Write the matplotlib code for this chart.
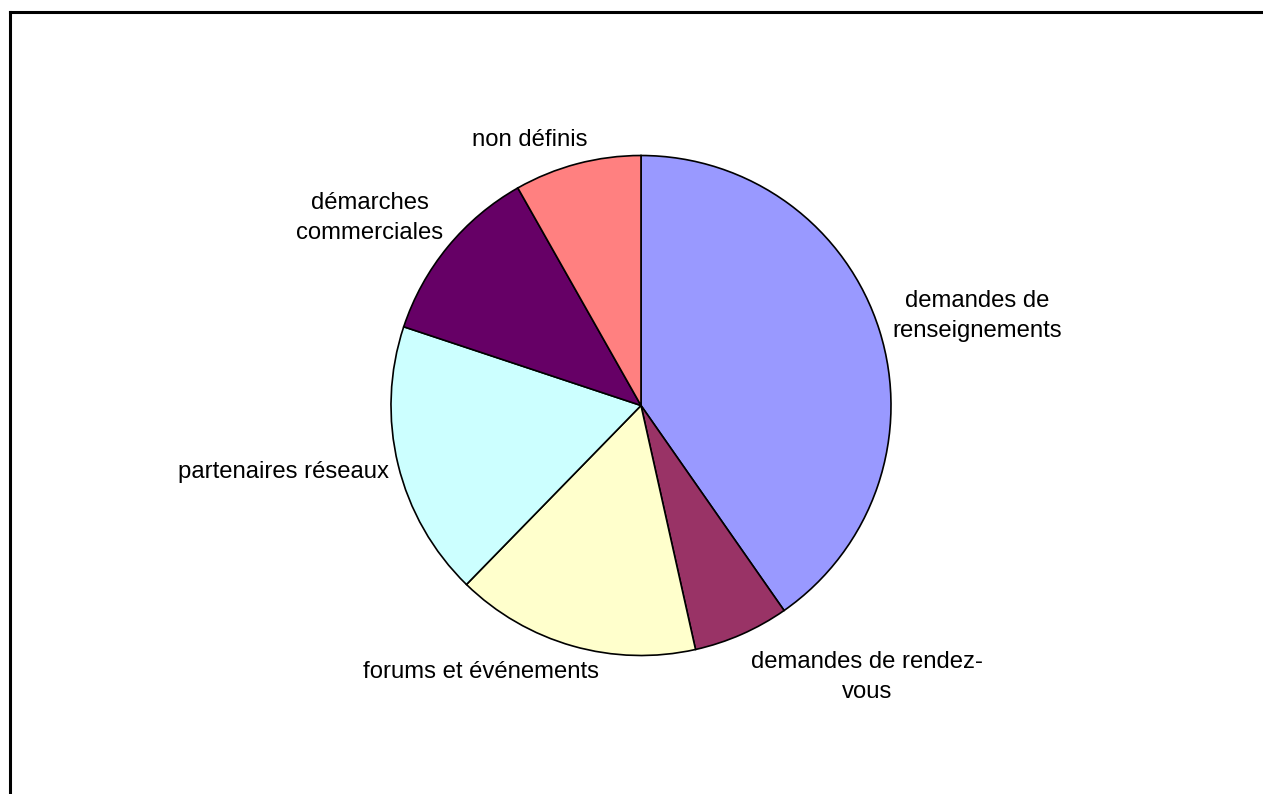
import matplotlib
matplotlib.use("Agg")
import matplotlib.pyplot as plt
from matplotlib.lines import Line2D

categories = ["demandes de renseignements", "demandes de rendez-vous",
              "forums et événements", "partenaires réseaux",
              "démarches commerciales", "non définis"]
values = [40.3, 6.2, 15.8, 17.8, 11.7, 8.2]
colors = ["#9999FF", "#993366", "#FFFFCC", "#CCFFFF", "#660066", "#FF8080"]

label_texts = ["demandes de\nrenseignements", "demandes de rendez-\nvous",
               "forums et événements", "partenaires réseaux",
               "démarches\ncommerciales", "non définis"]
# label centres in pixels (x, y from top)
label_pos = [(977, 316), (867, 677), (481, 672), (283, 472), (370, 218), (530, 140)]

W, H = 1263, 794
fig = plt.figure(figsize=(W / 100, H / 100), dpi=100)
fig.patch.set_facecolor("white")

cx, cy, r = 641, 405.5, 250
ax = fig.add_axes([(cx - r) / W, (H - cy - r) / H, 2 * r / W, 2 * r / H])
ax.pie(values, colors=colors, startangle=90, counterclock=False,
       wedgeprops=dict(edgecolor="black", linewidth=1.2), radius=1.0)
ax.set_xlim(-1, 1)
ax.set_ylim(-1, 1)
ax.set_aspect("auto")
ax.axis("off")

for txt, (px, py) in zip(label_texts, label_pos):
    fig.text(px / W, 1 - py / H, txt, ha="center", va="center",
             multialignment="center", fontsize=17.2,
             family="Liberation Sans", linespacing=1.45)

# border lines on left and top
fig.add_artist(Line2D([10 / W, 10 / W], [0, 1 - 12 / H], color="black", lw=2.2,
                      transform=fig.transFigure))
fig.add_artist(Line2D([10 / W, 1], [1 - 12 / H, 1 - 12 / H], color="black", lw=2.2,
                      transform=fig.transFigure))

fig.savefig("out.png", dpi=100)
